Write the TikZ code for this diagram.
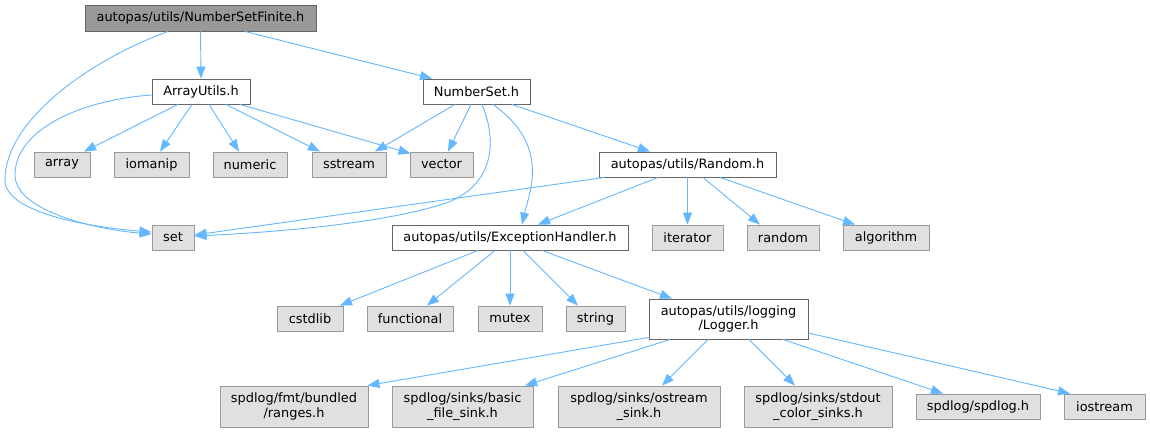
\documentclass[tikz,border=0pt]{standalone}
\usepackage{fontspec}
\setmainfont{DejaVu Sans}
\usetikzlibrary{arrows.meta}
\definecolor{edgec}{HTML}{63B8FF}
\definecolor{bordA}{HTML}{666666}
\definecolor{bordB}{HTML}{999999}
\definecolor{fillB}{HTML}{E0E0E0}
\definecolor{fillTop}{HTML}{999999}
\begin{document}
\begin{tikzpicture}[x=1pt,y=-1pt,
  base/.style={line width=0.9pt, inner sep=0pt, align=center, text=black,
    font=\fontsize{12.9}{14.5}\selectfont},
  topbox/.style={base, draw=bordA, fill=fillTop},
  filebox/.style={base, draw=bordA, fill=white},
  sysbox/.style={base, draw=bordB, fill=fillB},
  dep/.style={draw=edgec, line width=0.9pt, -{Triangle[length=12pt,width=9pt]}}]
\useasboundingbox (0,0) rectangle (1150,432);
\fill[white] (0,0) rectangle (1150,432);
% row 0
\node[topbox, minimum width=231, minimum height=26] (nsf) at (200.5,18) {autopas/utils/NumberSetFinite.h};
% row 1
\node[filebox, minimum width=98, minimum height=25] (au) at (201,91.5) {ArrayUtils.h};
\node[filebox, minimum width=107, minimum height=25] (ns) at (476.5,91.5) {NumberSet.h};
% row 2
\node[sysbox, minimum width=56, minimum height=25] (array) at (62,164.5) {array};
\node[sysbox, minimum width=75, minimum height=25] (iomanip) at (151.5,164.5) {iomanip};
\node[sysbox, minimum width=74, minimum height=25] (numeric) at (250,164.5) {numeric};
\node[sysbox, minimum width=74, minimum height=25] (sstream) at (349,164.5) {sstream};
\node[sysbox, minimum width=63, minimum height=25] (vector) at (441.5,164.5) {vector};
\node[filebox, minimum width=177, minimum height=25] (randh) at (687.5,164.5) {autopas/utils/Random.h};
% row 3
\node[sysbox, minimum width=42, minimum height=25] (set) at (173,237.5) {set};
\node[filebox, minimum width=236, minimum height=25] (eh) at (510,237.5) {autopas/utils/ExceptionHandler.h};
\node[sysbox, minimum width=71, minimum height=25] (iterator) at (687.5,237.5) {iterator};
\node[sysbox, minimum width=72, minimum height=25] (rnd) at (783,237.5) {random};
\node[sysbox, minimum width=86, minimum height=25] (algorithm) at (886,237.5) {algorithm};
% row 4
\node[sysbox, minimum width=66, minimum height=25] (cstdlib) at (310,318.5) {cstdlib};
\node[sysbox, minimum width=86, minimum height=25] (functional) at (410,318.5) {functional};
\node[sysbox, minimum width=64, minimum height=25] (mutex) at (510,318.5) {mutex};
\node[sysbox, minimum width=59, minimum height=25] (string) at (595.5,318.5) {string};
\node[filebox, minimum width=159, minimum height=40] (logger) at (728.5,319) {autopas/utils/logging\\/Logger.h};
% row 5
\node[sysbox, minimum width=148, minimum height=41] (ranges) at (294,406.5) {spdlog/fmt/bundled\\/ranges.h};
\node[sysbox, minimum width=141, minimum height=41] (basic) at (462.5,406.5) {spdlog/sinks/basic\\\_file\_sink.h};
\node[sysbox, minimum width=162, minimum height=41] (ostream) at (639,406.5) {spdlog/sinks/ostream\\\_sink.h};
\node[sysbox, minimum width=148, minimum height=41] (stdout) at (818,406.5) {spdlog/sinks/stdout\\\_color\_sinks.h};
\node[sysbox, minimum width=124, minimum height=25] (spdlogh) at (978,406.5) {spdlog/spdlog.h};
\node[sysbox, minimum width=81, minimum height=25] (iostream) at (1104.5,406.5) {iostream};
% edges from NumberSetFinite
\draw[dep] (nsf.south) -- (au.north);
\draw[dep] ([xshift=44.5pt]nsf.south) -- ([xshift=-44.5pt]ns.north);
\draw[dep] ([xshift=-32.5pt]nsf.south) .. controls (90,60) and (5,120) .. (5,180)
  .. controls (5,215) and (100,228) .. ([yshift=5.5pt]set.west);
% edges from ArrayUtils
\draw[dep] ([yshift=-3.5pt]au.west) .. controls (80,100) and (15,130) .. (15,175)
  .. controls (15,212) and (100,230) .. ([yshift=3.5pt]set.west);
\draw[dep] ([xshift=-23pt]au.south) -- ([xshift=22pt]array.north);
\draw[dep] ([xshift=-9pt]au.south) -- ([xshift=8.5pt]iomanip.north);
\draw[dep] ([xshift=8pt]au.south) -- ([xshift=-11pt]numeric.north);
\draw[dep] ([xshift=25pt]au.south) -- ([xshift=-29pt]sstream.north);
\draw[dep] ([xshift=39pt]au.south) -- ([xshift=1pt,yshift=-2pt]vector.north west);
% edges from NumberSet
\draw[dep] ([xshift=-21.5pt]ns.south) -- ([xshift=26pt]sstream.north);
\draw[dep] ([xshift=-5.5pt]ns.south) -- ([xshift=6.5pt]vector.north);
\draw[dep] ([xshift=5.5pt]ns.south) .. controls (497,140) and (495,185) .. (446,203)
  .. controls (380,225) and (260,233) .. ([yshift=1.5pt]set.east);
\draw[dep] ([xshift=16.5pt]ns.south) .. controls (550,145) and (530,190) .. ([xshift=12pt]eh.north);
\draw[dep] ([xshift=35.5pt]ns.south) -- ([xshift=-37.5pt]randh.north);
% edges from Random.h
\draw[dep] ([xshift=6pt]randh.south west) -- ([yshift=2.5pt]set.east);
\draw[dep] ([xshift=-29.5pt]randh.south) -- ([xshift=28pt]eh.north);
\draw[dep] (randh.south) -- (iterator.north);
\draw[dep] ([xshift=15.5pt]randh.south) -- ([xshift=-23pt]rnd.north);
\draw[dep] ([xshift=32.5pt]randh.south) -- ([xshift=-31pt]algorithm.north);
% edges from ExceptionHandler
\draw[dep] ([xshift=-32pt]eh.south) -- ([xshift=30pt]cstdlib.north);
\draw[dep] ([xshift=-15pt]eh.south) -- ([xshift=17pt]functional.north);
\draw[dep] (eh.south) -- (mutex.north);
\draw[dep] ([xshift=13pt]eh.south) -- ([xshift=-17.5pt]string.north);
\draw[dep] ([xshift=32pt]eh.south) -- ([xshift=-56.5pt]logger.north);
% edges from Logger
\draw[dep] ([yshift=2pt]logger.south west) -- ([xshift=-1pt]ranges.north east);
\draw[dep] ([xshift=-58.5pt]logger.south) -- ([xshift=62.5pt]basic.north);
\draw[dep] ([xshift=-20.5pt]logger.south) -- ([xshift=23pt]ostream.north);
\draw[dep] ([xshift=20.5pt]logger.south) -- ([xshift=-23pt]stdout.north);
\draw[dep] ([xshift=54.5pt]logger.south) -- ([xshift=-35pt]spdlogh.north);
\draw[dep] ([yshift=-14pt]logger.east) -- ([xshift=-34.5pt]iostream.north);
\end{tikzpicture}
\end{document}
